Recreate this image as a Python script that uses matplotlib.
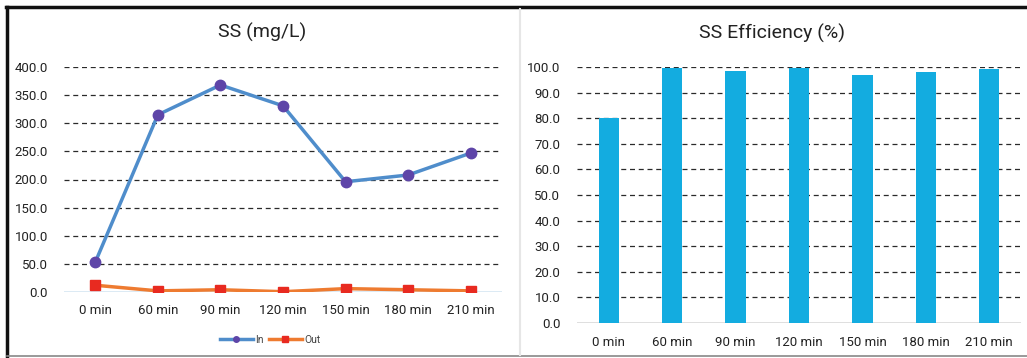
import matplotlib
matplotlib.use("Agg")
import matplotlib.pyplot as plt
from matplotlib.lines import Line2D
import numpy as np

plt.rcParams['font.family'] = ['Roboto', 'DejaVu Sans']

categories = ["0 min", "60 min", "90 min", "120 min", "150 min", "180 min", "210 min"]
ss_in = [53, 315, 368, 331, 196, 208, 247]
ss_out = [12, 2, 4, 0.5, 6, 4, 2]
efficiency = [80.2, 99.6, 98.4, 99.6, 96.9, 98.0, 99.1]

W, H = 1027, 358
fig = plt.figure(figsize=(W / 100, H / 100), dpi=100)

def fx(px):
    return px / W

def fy(py):
    return 1 - py / H

# Left: line chart
ax1 = fig.add_axes([fx(64), fy(292), fx(502 - 64), fy(67) - fy(292)])
x = np.arange(len(categories))
ax1.plot(x, ss_in, color="#4F8DCB", lw=2.5, marker="o", ms=7.5,
         mfc="#5E45A8", mec="#5E45A8", zorder=3)
ax1.plot(x, ss_out, color="#EE7B30", lw=2.5, marker="s", ms=7,
         mfc="#E82A20", mec="#E82A20", zorder=3)
ax1.set_xlim(-0.5, len(categories) - 0.5)
ax1.set_ylim(0, 400)
ax1.set_yticks(np.arange(0, 401, 50))
ax1.set_yticklabels([f"{v:.1f}" for v in np.arange(0, 401, 50)])
ax1.set_xticks(x)
ax1.set_xticklabels(categories)
for s in ax1.spines.values():
    s.set_visible(False)
ax1.axhline(0, color="#D6E6F2", lw=1.2, zorder=1)
for v in np.arange(50, 401, 50):
    ax1.axhline(v, color="#2A2A2A", lw=0.9, ls=(0, (4, 3)), zorder=0)
ax1.tick_params(length=0, labelsize=9.5, colors="#222222")
ax1.tick_params(axis="y", pad=11.5)
ax1.tick_params(axis="x", pad=9)
fig.text(fx(262), fy(32), "SS (mg/L)", ha="center", va="center", fontsize=14, color="#222222")

handles = [
    Line2D([], [], color="#4F8DCB", lw=2.5, marker="o", ms=4, mfc="#5E45A8", mec="#5E45A8"),
    Line2D([], [], color="#EE7B30", lw=2.5, marker="s", ms=5, mfc="#E82A20", mec="#E82A20"),
]
fig.legend(handles, ["In", "Out"], loc="center", bbox_to_anchor=(fx(270), fy(340)),
           ncol=2, frameon=False, fontsize=7.5, handlelength=3.2, columnspacing=0.5,
           handletextpad=0.2, labelcolor="#444444")

# Right: bar chart
ax2 = fig.add_axes([fx(577), fy(323), fx(1021 - 577), fy(67) - fy(323)])
ax2.bar(x, efficiency, width=0.32, color="#13ACE0", zorder=2)
ax2.set_xlim(-0.5, len(categories) - 0.5)
ax2.set_ylim(0, 100)
ax2.set_yticks(np.arange(0, 101, 10))
ax2.set_yticklabels([f"{v:.1f}" for v in np.arange(0, 101, 10)])
ax2.set_xticks(x)
ax2.set_xticklabels(categories)
for s in ax2.spines.values():
    s.set_visible(False)
ax2.axhline(0, color="#D9D9D9", lw=1.2, zorder=1)
for v in np.arange(10, 101, 10):
    ax2.axhline(v, color="#2A2A2A", lw=0.9, ls=(0, (4, 3)), zorder=1)
ax2.tick_params(length=0, labelsize=9.5, colors="#222222")
ax2.tick_params(axis="y", pad=12)
ax2.tick_params(axis="x", pad=9)
fig.text(fx(772), fy(33), "SS Efficiency (%)", ha="center", va="center", fontsize=14, color="#222222")

# Frame lines
fig.add_artist(Line2D([fx(6), 1], [fy(7), fy(7)], color="#111111", lw=2.5, transform=fig.transFigure))
fig.add_artist(Line2D([fx(7), fx(7)], [fy(7), 0], color="#111111", lw=2.5, transform=fig.transFigure))
fig.add_artist(Line2D([fx(7), 1], [fy(356), fy(356)], color="#888888", lw=1.2, transform=fig.transFigure))
fig.add_artist(Line2D([fx(520), fx(520)], [fy(9), fy(355)], color="#E6E6E6", lw=1.5, transform=fig.transFigure))

fig.savefig("out.png", dpi=100, facecolor="white")
